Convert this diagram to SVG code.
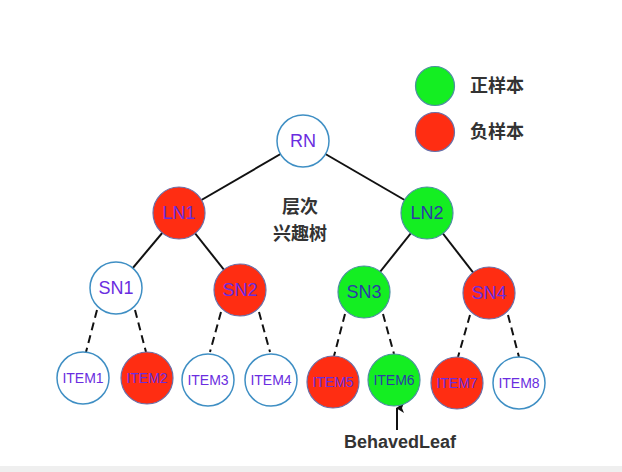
<svg xmlns="http://www.w3.org/2000/svg" width="622" height="472" viewBox="0 0 622 472">
<defs>
<style>
.solid{stroke:#111;stroke-width:2;fill:none}
.dash{stroke:#111;stroke-width:2;fill:none;stroke-dasharray:8 5}
.w{fill:#fff;stroke:#3f8fc4;stroke-width:1.5}
.r{fill:#ff2d12;stroke:#6a6fa8;stroke-width:1.2}
.g{fill:#14ee22;stroke:#4d8fa0;stroke-width:1.2}
.t{font-family:"Liberation Sans",Arial,sans-serif;font-size:18px;text-anchor:middle;dominant-baseline:central;fill:#6a2de0}
.ti{font-size:14px}
.tg{fill:#2b3aa8}
.cn{font-family:"Noto Sans CJK SC","Liberation Sans",sans-serif;font-size:18px;fill:#333;font-weight:600}
</style>
<marker id="ah" markerWidth="10" markerHeight="10" refX="5" refY="1" orient="auto" markerUnits="userSpaceOnUse" viewBox="0 0 10 10"><path d="M0,8 L5,0 L10,8 L5,6 Z" fill="#111"/></marker>
</defs>
<rect x="0" y="0" width="622" height="472" fill="#fff"/>
<rect x="0" y="466" width="622" height="6" fill="#efefef"/>
<g id="connectors">
<line class="solid" x1="303" y1="141" x2="179" y2="213"/>
<line class="solid" x1="303" y1="141" x2="427" y2="213"/>
<line class="solid" x1="179" y1="213" x2="116" y2="288"/>
<line class="solid" x1="179" y1="213" x2="240" y2="290"/>
<line class="solid" x1="427" y1="213" x2="364" y2="292"/>
<line class="solid" x1="427" y1="213" x2="489" y2="293"/>
<line class="dash" x1="97" y1="310" x2="86" y2="352"/>
<line class="dash" x1="135" y1="310" x2="146" y2="352"/>
<line class="dash" x1="221" y1="312" x2="210" y2="352"/>
<line class="dash" x1="259" y1="312" x2="270" y2="352"/>
<line class="dash" x1="345" y1="314" x2="334" y2="356"/>
<line class="dash" x1="383" y1="314" x2="394" y2="354"/>
<line class="dash" x1="470" y1="315" x2="458" y2="357"/>
<line class="dash" x1="508" y1="315" x2="519" y2="357"/>
<line class="solid" x1="397" y1="430" x2="397" y2="408" marker-end="url(#ah)"/>
</g>
<g id="legend-pos"><circle class="g" cx="435" cy="86" r="19.5"/><text class="cn" x="470" y="92">正样本</text></g>
<g id="legend-neg"><circle class="r" cx="435" cy="132" r="19.5"/><text class="cn" x="470" y="138">负样本</text></g>
<g id="title"><text class="cn" x="300" y="213" text-anchor="middle">层次</text><text class="cn" x="300" y="240" text-anchor="middle">兴趣树</text></g>
<g id="RN"><circle class="w" cx="303" cy="141" r="26"/><text class="t" x="303" y="141">RN</text></g>
<g id="LN1"><circle class="r" cx="179" cy="213" r="26"/><text class="t" x="179" y="213">LN1</text></g>
<g id="LN2"><circle class="g" cx="427" cy="213" r="26"/><text class="t tg" x="427" y="213">LN2</text></g>
<g id="SN1"><circle class="w" cx="116" cy="288" r="26"/><text class="t" x="116" y="288">SN1</text></g>
<g id="SN2"><circle class="r" cx="240" cy="290" r="26"/><text class="t" x="240" y="290">SN2</text></g>
<g id="SN3"><circle class="g" cx="364" cy="292" r="26"/><text class="t tg" x="364" y="292">SN3</text></g>
<g id="SN4"><circle class="r" cx="489" cy="293" r="26"/><text class="t" x="489" y="293">SN4</text></g>
<g id="ITEM1"><circle class="w" cx="83" cy="378" r="26"/><text class="t ti" x="83" y="378">ITEM1</text></g>
<g id="ITEM2"><circle class="r" cx="147" cy="378" r="26"/><text class="t ti" x="147" y="378">ITEM2</text></g>
<g id="ITEM3"><circle class="w" cx="208" cy="380" r="26"/><text class="t ti" x="208" y="380">ITEM3</text></g>
<g id="ITEM4"><circle class="w" cx="271" cy="380" r="26"/><text class="t ti" x="271" y="380">ITEM4</text></g>
<g id="ITEM5"><circle class="r" cx="333" cy="382" r="26"/><text class="t ti" x="333" y="382">ITEM5</text></g>
<g id="ITEM6"><circle class="g" cx="394" cy="380" r="26"/><text class="t ti tg" x="394" y="380">ITEM6</text></g>
<g id="ITEM7"><circle class="r" cx="457" cy="383" r="26"/><text class="t ti" x="457" y="383">ITEM7</text></g>
<g id="ITEM8"><circle class="w" cx="519" cy="383" r="26"/><text class="t ti" x="519" y="383">ITEM8</text></g>
<g id="BehavedLeaf"><text x="400" y="448" text-anchor="middle" font-family="'Liberation Sans',Arial,sans-serif" font-size="18" font-weight="bold" fill="#333">BehavedLeaf</text></g>
</svg>
